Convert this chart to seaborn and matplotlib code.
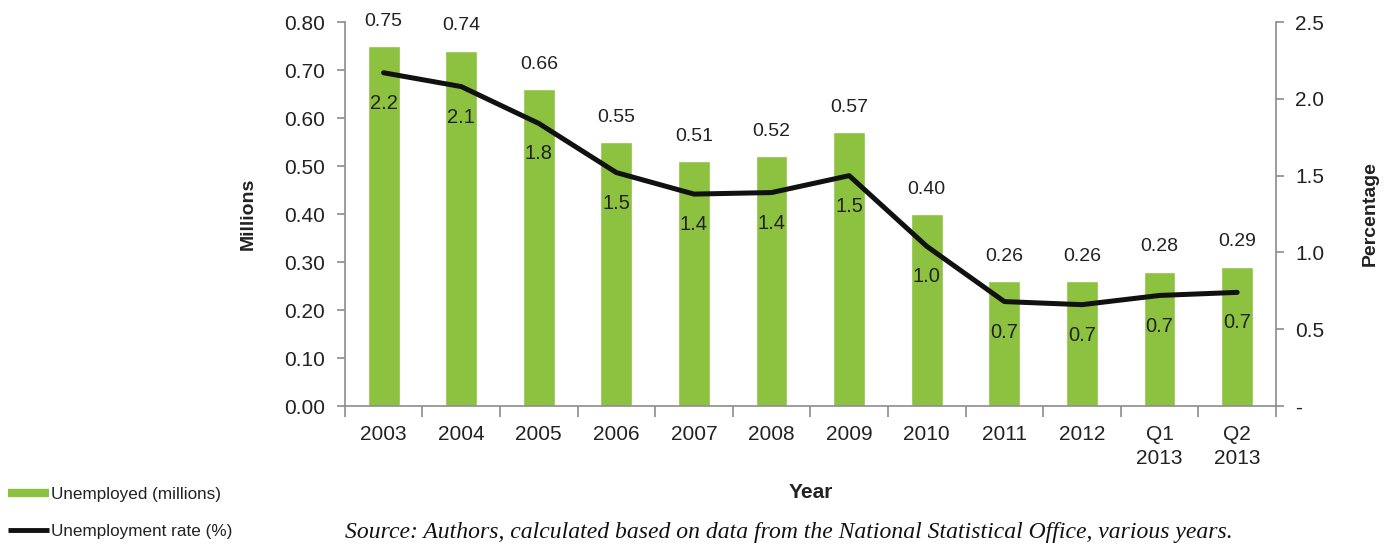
import matplotlib
matplotlib.use("Agg")
import matplotlib.pyplot as plt
from matplotlib.lines import Line2D
from matplotlib.ticker import FixedLocator, FuncFormatter
import numpy as np
import seaborn as sns

# Unemployment figures, 2003 to Q2 2013
periods = ["2003", "2004", "2005", "2006", "2007", "2008", "2009", "2010",
           "2011", "2012", "Q1\n2013", "Q2\n2013"]
unemployed_millions = [0.75, 0.74, 0.66, 0.55, 0.51, 0.52, 0.57, 0.40,
                       0.26, 0.26, 0.28, 0.29]
unemployment_rate = [2.17, 2.08, 1.84, 1.52, 1.38, 1.39, 1.50, 1.04,
                     0.68, 0.66, 0.72, 0.74]

GREEN = "#8CC23F"
GREY = "#8C8C8C"
TEXT = "#222222"

sns.set_theme(style="white")
plt.rcParams["font.family"] = ["Liberation Sans", "DejaVu Sans"]

fig = plt.figure(figsize=(13.96, 5.45), dpi=100)
ax = fig.add_axes([0.247, 0.255, 0.667, 0.7045])

sns.barplot(x=periods, y=unemployed_millions, color=GREEN, width=0.41,
            saturation=1, ax=ax)
ax.set_xlim(-0.5, len(periods) - 0.5)
ax.set_ylim(0, 0.8)
ax.yaxis.set_major_locator(FixedLocator(np.arange(0, 0.81, 0.1)))
ax.yaxis.set_major_formatter(FuncFormatter(lambda v, p: f"{v:.2f}"))

xpos = np.arange(len(periods))
for x, v in zip(xpos, unemployed_millions):
    ax.annotate(f"{v:.2f}", (x, v), xytext=(0, 18), textcoords="offset points",
                ha="center", va="center", fontsize=14, color=TEXT)

ax2 = ax.twinx()
sns.lineplot(x=xpos, y=unemployment_rate, color="#111111", linewidth=3.6,
             ax=ax2, legend=False)
ax2.set_ylim(0, 2.5)
ax2.yaxis.set_major_locator(FixedLocator(np.arange(0, 2.51, 0.5)))
ax2.yaxis.set_major_formatter(
    FuncFormatter(lambda v, p: "-" if abs(v) < 1e-9 else f"{v:.1f}"))
for x, v in zip(xpos, unemployment_rate):
    ax2.annotate(f"{v:.1f}", (x, v), xytext=(0, -22), textcoords="offset points",
                 ha="center", va="center", fontsize=14.5, color=TEXT)

# Spines and ticks
for a in (ax, ax2):
    a.spines["top"].set_visible(False)
    for s in ("left", "right", "bottom"):
        a.spines[s].set_color(GREY)
        a.spines[s].set_linewidth(1.2)
    a.grid(False)
ax.spines["right"].set_visible(False)
ax2.spines["left"].set_visible(False)
ax2.spines["bottom"].set_visible(False)

ax.tick_params(axis="y", which="major", left=True, length=6, width=1.2,
               color=GREY, labelsize=15, labelcolor=TEXT, pad=8)
ax2.tick_params(axis="y", which="major", right=True, length=6, width=1.2,
                color=GREY, labelsize=15, labelcolor=TEXT, pad=8)
ax.xaxis.set_minor_locator(FixedLocator(np.arange(-0.5, len(periods), 1.0)))
ax.tick_params(axis="x", which="major", length=0, labelsize=15,
               labelcolor=TEXT, pad=14)
ax.tick_params(axis="x", which="minor", bottom=True, length=8, width=1.2,
               color=GREY)
for lbl in ax.get_xticklabels():
    lbl.set_linespacing(1.3)

ax.set_xlabel("Year", fontsize=15, fontweight="bold", color=TEXT, labelpad=11)
ax.set_ylabel("Millions", fontsize=14, fontweight="bold", color=TEXT,
              labelpad=20)
ax2.set_ylabel("Percentage", fontsize=14, fontweight="bold", color=TEXT,
               labelpad=27)

# Legend in the lower left corner
handles = [Line2D([0], [0], color=GREEN, linewidth=6, solid_capstyle="butt"),
           Line2D([0], [0], color="#111111", linewidth=3.5,
                  solid_capstyle="butt")]
fig.legend(handles, ["Unemployed (millions)", "Unemployment rate (%)"],
           loc="lower left", bbox_to_anchor=(-0.004, -0.014), frameon=False,
           fontsize=12.3, handlelength=2.4, handletextpad=0.1,
           labelspacing=1.3, borderaxespad=0.3, borderpad=0.5,
           labelcolor=TEXT)

fig.text(0.247, 0.013,
         "Source: Authors, calculated based on data from the National "
         "Statistical Office, various years.",
         fontsize=17, fontstyle="italic", family="Liberation Serif",
         color="#111111", ha="left", va="baseline")

fig.savefig("out.png", dpi=100)
